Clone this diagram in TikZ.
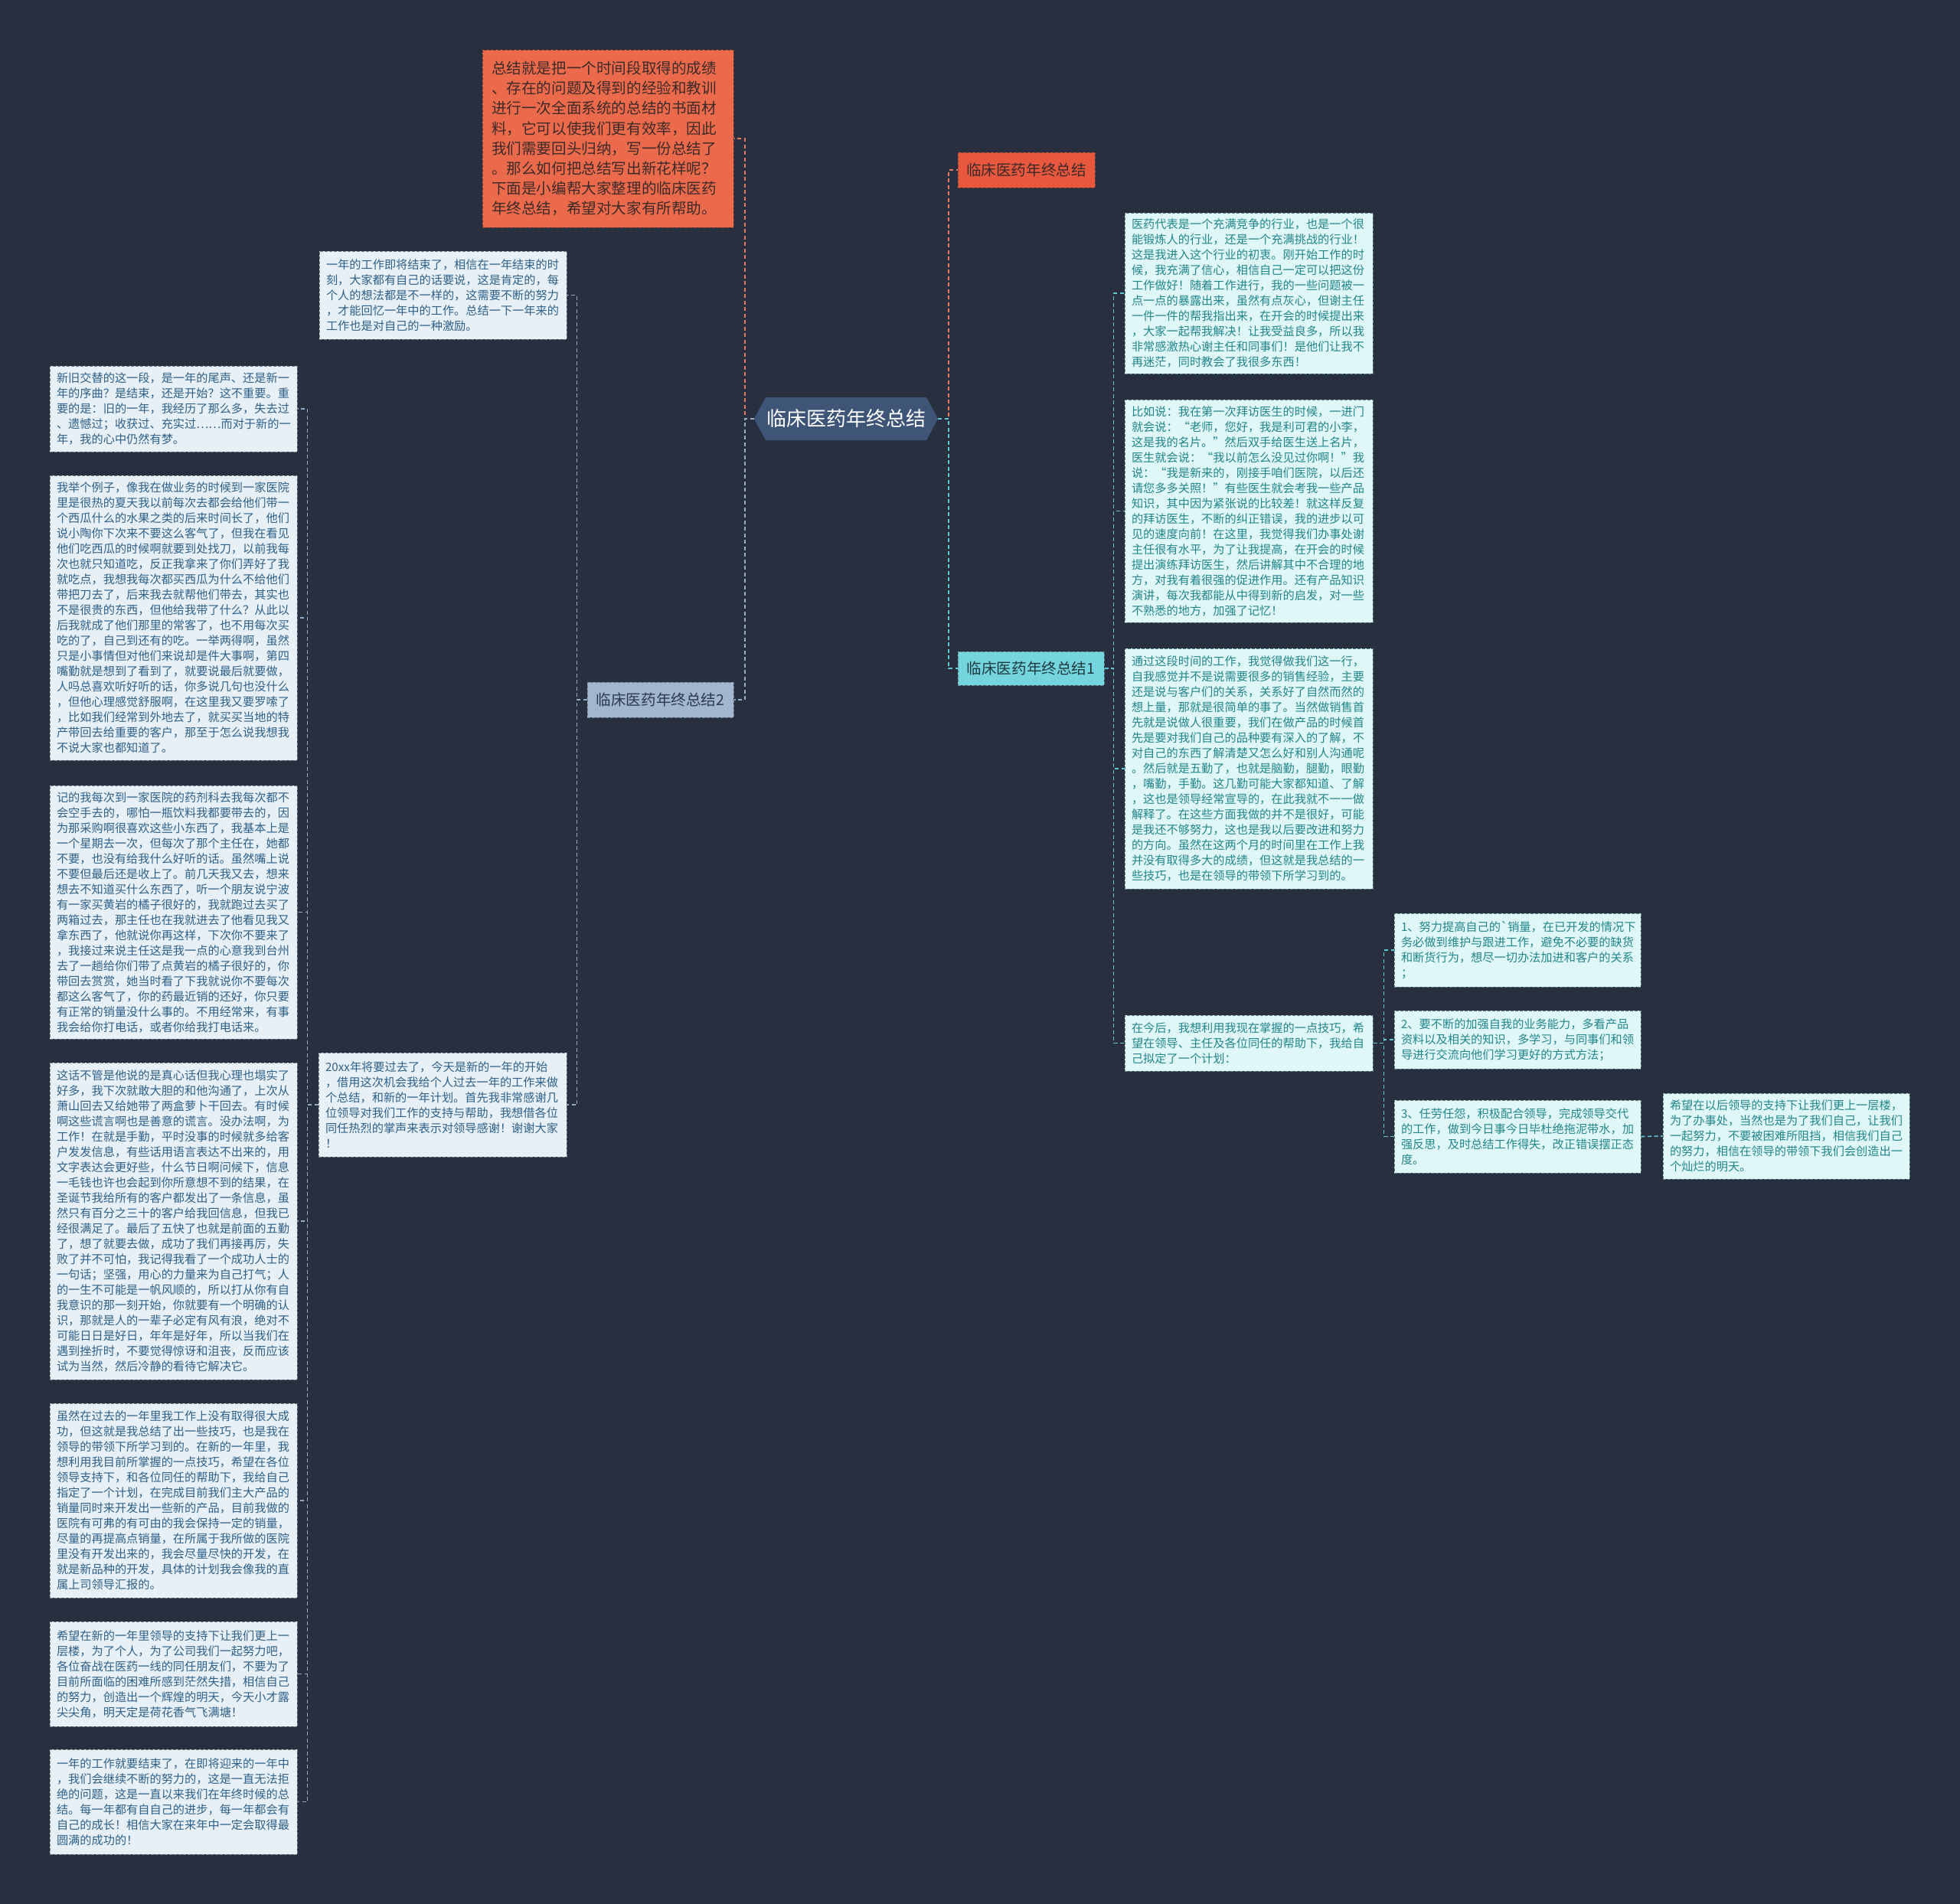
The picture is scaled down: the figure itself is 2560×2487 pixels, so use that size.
\documentclass[tikz,border=0pt]{standalone}
\usepackage{fontspec}
\setmainfont{Noto Sans CJK SC}
\newfontfamily\rawfont{Noto Sans CJK SC}[Ligatures=TeXOff]
\definecolor{bgc}{HTML}{283040}
\definecolor{ofill}{HTML}{EC6A4C}
\definecolor{otext}{HTML}{3C2A28}
\definecolor{oline}{HTML}{E27A62}
\definecolor{cfill}{HTML}{3E5578}
\definecolor{lfill}{HTML}{E8F0F7}
\definecolor{ltext}{HTML}{2E6088}
\definecolor{lbord}{HTML}{6E7D8C}
\definecolor{rfill}{HTML}{E0F7F8}
\definecolor{rtext}{HTML}{22858A}
\definecolor{rbord}{HTML}{5E8488}
\definecolor{s1fill}{HTML}{74D5DE}
\definecolor{s2fill}{HTML}{A3B6CF}
\definecolor{cline}{HTML}{62C8D2}
\definecolor{bline}{HTML}{93ABC6}
\begin{document}
\begin{tikzpicture}[x=1pt,y=-1pt,
  conn/.style={line width=1.6pt, dash pattern=on 5pt off 3.5pt},
  basebox/.style={line width=1pt, dash pattern=on 4pt off 2pt, align=left, inner xsep=9pt, inner ysep=4pt,
    font=\fontsize{15.2}{20}\selectfont},
  lbox/.style={basebox, draw=lbord, fill=lfill, text=ltext, minimum width=323pt, text width=305pt},
  rbox/.style={basebox, draw=rbord, fill=rfill, text=rtext, minimum width=324pt, text width=306pt},
  sbox/.style={basebox, draw=rbord, fill=rfill, text=rtext, minimum width=322pt, text width=304pt},
  topic/.style={line width=1pt, dash pattern=on 4pt off 2pt, inner xsep=10pt, font=\fontsize{19.6}{24}\selectfont}
]
\fill[bgc] (0,0) rectangle (2560,2487);
\useasboundingbox (0,0) rectangle (2560,2487);

% central node
\node (center) at (1105,547) [minimum width=240pt, minimum height=56pt, text=white,
  font=\fontsize{26}{30}\selectfont,
  path picture={\fill[cfill] (path picture bounding box.west) -- ([xshift=15pt]path picture bounding box.north west) -- ([xshift=-15pt]path picture bounding box.north east) -- (path picture bounding box.east) -- ([xshift=-15pt]path picture bounding box.south east) -- ([xshift=15pt]path picture bounding box.south west) -- cycle;}]
  {临床医药年终总结};

% intro
\node (intro) at (794,181) [draw=otext!70!ofill, fill=ofill, text=otext, line width=1pt, dash pattern=on 4pt off 2pt,
  minimum width=328pt, text width=304pt, inner xsep=12pt, minimum height=232pt, align=left,
  font=\fontsize{19.6}{26.2}\selectfont]
  {总结就是把一个时间段取得的成绩\\、存在的问题及得到的经验和教训\\进行一次全面系统的总结的书面材\\料，它可以使我们更有效率，因此\\我们需要回头归纳，写一份总结了\\。那么如何把总结写出新花样呢？\\下面是小编帮大家整理的临床医药\\年终总结，希望对大家有所帮助。};

% topic nodes
\node (sum0) at (1340.5,222) [topic, draw=otext!60!ofill, fill={rgb,255:red,232;green,88;blue,62}, text=otext, minimum width=179pt, minimum height=46pt] {临床医药年终总结};
\node (sum1) at (1346.5,873) [topic, draw=rbord, fill=s1fill, text={rgb,255:red,30;green,58;blue,64}, minimum width=191pt, minimum height=44pt] {临床医药年终总结1};
\node (sum2) at (862.5,914) [topic, draw=lbord, fill=s2fill, text={rgb,255:red,42;green,58;blue,80}, minimum width=191pt, minimum height=46pt] {临床医药年终总结2};

% left branch
\node (B0) at (578.5,385.5) [lbox, minimum height=115pt]
 {一年的工作即将结束了，相信在一年结束的时\\刻，大家都有自己的话要说，这是肯定的，每\\个人的想法都是不一样的，这需要不断的努力\\，才能回忆一年中的工作。总结一下一年来的\\工作也是对自己的一种激励。};
\node (B1) at (578,1443) [lbox, minimum width=324pt, text width=306pt, minimum height=136pt]
 {20xx年将要过去了，今天是新的一年的开始\\，借用这次机会我给个人过去一年的工作来做\\个总结，和新的一年计划。首先我非常感谢几\\位领导对我们工作的支持与帮助，我想借各位\\同任热烈的掌声来表示对领导感谢！谢谢大家\\！};

\node (L1) at (226.5,534) [lbox, minimum height=112pt]
 {新旧交替的这一段，是一年的尾声、还是新一\\年的序曲？是结束，还是开始？这不重要。重\\要的是：旧的一年，我经历了那么多，失去过\\、遗憾过；收获过、充实过……而对于新的一\\年，我的心中仍然有梦。};
\node (L2) at (226.5,807) [lbox, minimum height=372pt]
 {我举个例子，像我在做业务的时候到一家医院\\里是很热的夏天我以前每次去都会给他们带一\\个西瓜什么的水果之类的后来时间长了，他们\\说小陶你下次来不要这么客气了，但我在看见\\他们吃西瓜的时候啊就要到处找刀，以前我每\\次也就只知道吃，反正我拿来了你们弄好了我\\就吃点，我想我每次都买西瓜为什么不给他们\\带把刀去了，后来我去就帮他们带去，其实也\\不是很贵的东西，但他给我带了什么？从此以\\后我就成了他们那里的常客了，也不用每次买\\吃的了，自己到还有的吃。一举两得啊，虽然\\只是小事情但对他们来说却是件大事啊，第四\\嘴勤就是想到了看到了，就要说最后就要做，\\人吗总喜欢听好听的话，你多说几句也没什么\\，但他心理感觉舒服啊，在这里我又要罗嗦了\\，比如我们经常到外地去了，就买买当地的特\\产带回去给重要的客户，那至于怎么说我想我\\不说大家也都知道了。};
\node (L3) at (226.5,1191.5) [lbox, minimum height=331pt]
 {记的我每次到一家医院的药剂科去我每次都不\\会空手去的，哪怕一瓶饮料我都要带去的，因\\为那采购啊很喜欢这些小东西了，我基本上是\\一个星期去一次，但每次了那个主任在，她都\\不要，也没有给我什么好听的话。虽然嘴上说\\不要但最后还是收上了。前几天我又去，想来\\想去不知道买什么东西了，听一个朋友说宁波\\有一家买黄岩的橘子很好的，我就跑过去买了\\两箱过去，那主任也在我就进去了他看见我又\\拿东西了，他就说你再这样，下次你不要来了\\，我接过来说主任这是我一点的心意我到台州\\去了一趟给你们带了点黄岩的橘子很好的，你\\带回去赏赏，她当时看了下我就说你不要每次\\都这么客气了，你的药最近销的还好，你只要\\有正常的销量没什么事的。不用经常来，有事\\我会给你打电话，或者你给我打电话来。};
\node (L4) at (226.5,1595) [lbox, minimum height=414pt]
 {这话不管是他说的是真心话但我心理也塌实了\\好多，我下次就敢大胆的和他沟通了，上次从\\萧山回去又给她带了两盒萝卜干回去。有时候\\啊这些谎言啊也是善意的谎言。没办法啊，为\\工作！在就是手勤，平时没事的时候就多给客\\户发发信息，有些话用语言表达不出来的，用\\文字表达会更好些，什么节日啊问候下，信息\\一毛钱也许也会起到你所意想不到的结果，在\\圣诞节我给所有的客户都发出了一条信息，虽\\然只有百分之三十的客户给我回信息，但我已\\经很满足了。最后了五快了也就是前面的五勤\\了，想了就要去做，成功了我们再接再厉，失\\败了并不可怕，我记得我看了一个成功人士的\\一句话；坚强，用心的力量来为自己打气；人\\的一生不可能是一帆风顺的，所以打从你有自\\我意识的那一刻开始，你就要有一个明确的认\\识，那就是人的一辈子必定有风有浪，绝对不\\可能日日是好日，年年是好年，所以当我们在\\遇到挫折时，不要觉得惊讶和沮丧，反而应该\\试为当然，然后冷静的看待它解决它。};
\node (L5) at (226.5,1960) [lbox, minimum height=254pt]
 {虽然在过去的一年里我工作上没有取得很大成\\功，但这就是我总结了出一些技巧，也是我在\\领导的带领下所学习到的。在新的一年里，我\\想利用我目前所掌握的一点技巧，希望在各位\\领导支持下，和各位同任的帮助下，我给自己\\指定了一个计划，在完成目前我们主大产品的\\销量同时来开发出一些新的产品，目前我做的\\医院有可弗的有可由的我会保持一定的销量，\\尽量的再提高点销量，在所属于我所做的医院\\里没有开发出来的，我会尽量尽快的开发，在\\就是新品种的开发，具体的计划我会像我的直\\属上司领导汇报的。};
\node (L6) at (226.5,2186.5) [lbox, minimum height=137pt]
 {希望在新的一年里领导的支持下让我们更上一\\层楼，为了个人，为了公司我们一起努力吧，\\各位奋战在医药一线的同任朋友们，不要为了\\目前所面临的困难所感到茫然失措，相信自己\\的努力，创造出一个辉煌的明天，今天小才露\\尖尖角，明天定是荷花香气飞满塘！};
\node (L7) at (226.5,2353.5) [lbox, minimum height=137pt]
 {一年的工作就要结束了，在即将迎来的一年中\\，我们会继续不断的努力的，这是一直无法拒\\绝的问题，这是一直以来我们在年终时候的总\\结。每一年都有自自己的进步，每一年都会有\\自己的成长！相信大家在来年中一定会取得最\\圆满的成功的！};

% right branch
\node (R1) at (1631,383) [rbox, minimum height=210pt]
 {医药代表是一个充满竞争的行业，也是一个很\\能锻炼人的行业，还是一个充满挑战的行业！\\这是我进入这个行业的初衷。刚开始工作的时\\候，我充满了信心，相信自己一定可以把这份\\工作做好！随着工作进行，我的一些问题被一\\点一点的暴露出来，虽然有点灰心，但谢主任\\一件一件的帮我指出来，在开会的时候提出来\\，大家一起帮我解决！让我受益良多，所以我\\非常感激热心谢主任和同事们！是他们让我不\\再迷茫，同时教会了我很多东西！};
\node (R2) at (1631,667.5) [rbox, minimum height=291pt]
 {比如说：我在第一次拜访医生的时候，一进门\\就会说：“老师，您好，我是利可君的小李，\\这是我的名片。”然后双手给医生送上名片，\\医生就会说：“我以前怎么没见过你啊！”我\\说：“我是新来的，刚接手咱们医院，以后还\\请您多多关照！”有些医生就会考我一些产品\\知识，其中因为紧张说的比较差！就这样反复\\的拜访医生，不断的纠正错误，我的进步以可\\见的速度向前！在这里，我觉得我们办事处谢\\主任很有水平，为了让我提高，在开会的时候\\提出演练拜访医生，然后讲解其中不合理的地\\方，对我有着很强的促进作用。还有产品知识\\演讲，每次我都能从中得到新的启发，对一些\\不熟悉的地方，加强了记忆！};
\node (R3) at (1631,1004) [rbox, minimum height=314pt]
 {通过这段时间的工作，我觉得做我们这一行，\\自我感觉并不是说需要很多的销售经验，主要\\还是说与客户们的关系，关系好了自然而然的\\想上量，那就是很简单的事了。当然做销售首\\先就是说做人很重要，我们在做产品的时候首\\先是要对我们自己的品种要有深入的了解，不\\对自己的东西了解清楚又怎么好和别人沟通呢\\。然后就是五勤了，也就是脑勤，腿勤，眼勤\\，嘴勤，手勤。这几勤可能大家都知道、了解\\，这也是领导经常宣导的，在此我就不一一做\\解释了。在这些方面我做的并不是很好，可能\\是我还不够努力，这也是我以后要改进和努力\\的方向。虽然在这两个月的时间里在工作上我\\并没有取得多大的成绩，但这就是我总结的一\\些技巧，也是在领导的带领下所学习到的。};
\node (R4) at (1631,1362.5) [rbox, minimum height=73pt]
 {在今后，我想利用我现在掌握的一点技巧，希\\望在领导、主任及各位同任的帮助下，我给自\\己拟定了一个计划：};

\node (S1) at (1982,1241) [sbox, minimum height=96pt]
 {1、努力提高自己的{\rawfont`}销量，在已开发的情况下\\务必做到维护与跟进工作，避免不必要的缺货\\和断货行为，想尽一切办法加进和客户的关系\\；};
\node (S2) at (1982,1358) [sbox, minimum height=76pt]
 {2、要不断的加强自我的业务能力，多看产品\\资料以及相关的知识，多学习，与同事们和领\\导进行交流向他们学习更好的方式方法；};
\node (S3) at (1982,1484.5) [sbox, minimum height=95pt]
 {3、任劳任怨，积极配合领导，完成领导交代\\的工作，做到今日事今日毕杜绝拖泥带水，加\\强反思，及时总结工作得失，改正错误摆正态\\度。};
\node (S4) at (2333,1484) [sbox, minimum height=112pt]
 {希望在以后领导的支持下让我们更上一层楼，\\为了办事处，当然也是为了我们自己，让我们\\一起努力，不要被困难所阻挡，相信我们自己\\的努力，相信在领导的带领下我们会创造出一\\个灿烂的明天。};

% connectors
\draw[conn, oline] (center.west) -- ++(-12,0) |- (intro.east);
\draw[conn, bline] (center.west) -- ++(-12,0) |- (sum2.east);
\draw[conn, oline] (center.east) -- ++(14,0) |- (sum0.west);
\draw[conn, cline] (center.east) -- ++(14,0) |- (sum1.west);
\foreach \n in {R1,R2,R3,R4} \draw[conn, cline] (sum1.east) -- ++(12,0) |- (\n.west);
\foreach \n in {S1,S2,S3} \draw[conn, cline] (R4.east) -- ++(14,0) |- (\n.west);
\draw[conn, cline] (S3.east) -- (S4.west);
\foreach \n in {B0,B1} \draw[conn, bline] (sum2.west) -- ++(-13,0) |- (\n.east);
\foreach \n in {L1,L2,L3,L4,L5,L6,L7} \draw[conn, bline] (B1.west) -- ++(-14,0) |- (\n.east);
\end{tikzpicture}
\end{document}
